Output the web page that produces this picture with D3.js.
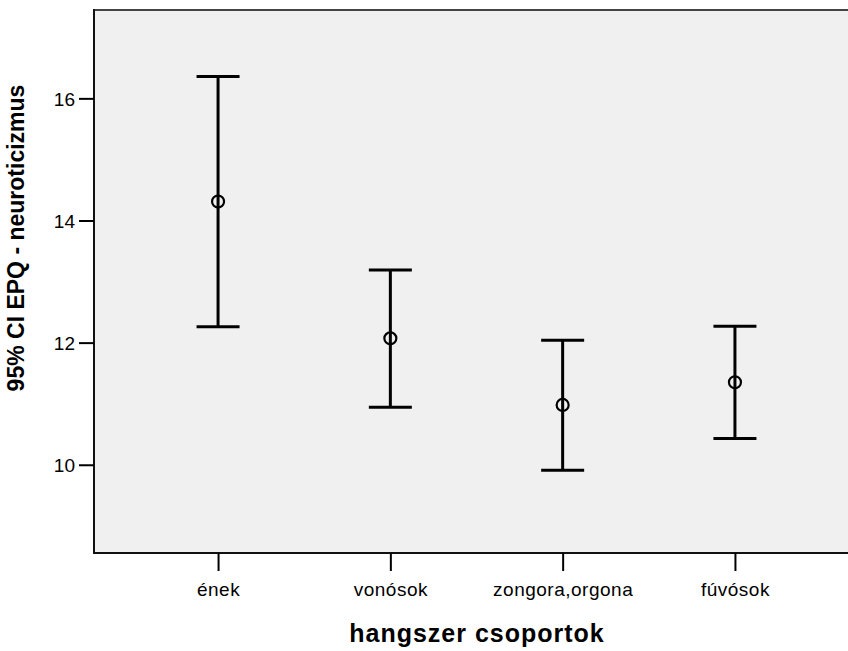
<!DOCTYPE html>
<head>
<meta charset="utf-8">
<script src="https://cdn.jsdelivr.net/npm/d3@7/dist/d3.min.js"></script>
<style>
body { margin: 0; background: #fff; }
text { font-family: Arial, "Liberation Sans", sans-serif; }
</style>
</head>
<body>
<script>
// data
var groups = ["ének", "vonósok", "zongora,orgona", "fúvósok"];
var means = [14.31, 12.07, 10.98, 11.35];
var lower = [12.26, 10.94, 9.91, 10.43];
var upper = [16.36, 13.19, 12.04, 12.27];
var yTicks = [10, 12, 14, 16];

var width = 848, height = 651;
var plotL = 94, plotR = 859, plotT = 10, plotB = 553;

var svg = d3.select("body").append("svg")
  .attr("width", width)
  .attr("height", height);

var x = d3.scalePoint().domain(groups).range([plotL, plotR]).padding(0.72);
var y = d3.scaleLinear().domain([8.555, 17.447]).range([plotB, plotT]);

// plot background + frame
svg.append("rect")
  .attr("x", plotL).attr("y", plotT)
  .attr("width", plotR - plotL).attr("height", plotB - plotT)
  .attr("fill", "#f0f0f0");
svg.append("line")
  .attr("x1", plotL).attr("x2", plotR).attr("y1", plotT).attr("y2", plotT)
  .attr("stroke", "#444").attr("stroke-width", 2);
svg.append("line")
  .attr("x1", plotL).attr("x2", plotL).attr("y1", plotT - 1).attr("y2", plotB + 1)
  .attr("stroke", "#111").attr("stroke-width", 2);
svg.append("line")
  .attr("x1", plotL - 1).attr("x2", plotR).attr("y1", plotB).attr("y2", plotB)
  .attr("stroke", "#111").attr("stroke-width", 2);

// axes
var yAxis = svg.append("g")
  .attr("transform", "translate(" + plotL + ",0)")
  .call(d3.axisLeft(y).tickValues(yTicks).tickSize(15).tickPadding(4).tickFormat(d3.format("d")));
yAxis.select(".domain").remove();
yAxis.selectAll("line").attr("stroke", "#000").attr("stroke-width", 2);
yAxis.selectAll("text").attr("font-size", 19).attr("fill", "#000")
  .style("font-family", "Arial, 'Liberation Sans', sans-serif").attr("dy", "0.38em");

var xAxis = svg.append("g")
  .attr("transform", "translate(0," + plotB + ")")
  .call(d3.axisBottom(x).tickSize(18).tickPadding(12));
xAxis.select(".domain").remove();
xAxis.selectAll("line").attr("stroke", "#000").attr("stroke-width", 2);
xAxis.selectAll("text").attr("font-size", 19).attr("fill", "#000")
  .attr("letter-spacing", "0.5px")
  .style("font-family", "Arial, 'Liberation Sans', sans-serif");

// axis titles
svg.append("text")
  .attr("x", 477).attr("y", 642)
  .attr("text-anchor", "middle")
  .attr("font-size", 25).attr("font-weight", "bold")
  .attr("letter-spacing", "1px")
  .text("hangszer csoportok");

svg.append("text")
  .attr("transform", "translate(24,238) rotate(-90)")
  .attr("text-anchor", "middle")
  .attr("font-size", 23).attr("font-weight", "bold")
  .text("95% CI EPQ - neuroticizmus");

// error bars
var bars = svg.selectAll("g.bar")
  .data(groups).enter().append("g").attr("class", "bar");

bars.append("line")
  .attr("x1", function(d) { return x(d); })
  .attr("x2", function(d) { return x(d); })
  .attr("y1", function(d, i) { return y(upper[i]); })
  .attr("y2", function(d, i) { return y(lower[i]); })
  .attr("stroke", "#000").attr("stroke-width", 3);
bars.append("line")
  .attr("x1", function(d) { return x(d) - 21.5; })
  .attr("x2", function(d) { return x(d) + 21.5; })
  .attr("y1", function(d, i) { return y(upper[i]); })
  .attr("y2", function(d, i) { return y(upper[i]); })
  .attr("stroke", "#000").attr("stroke-width", 3);
bars.append("line")
  .attr("x1", function(d) { return x(d) - 21.5; })
  .attr("x2", function(d) { return x(d) + 21.5; })
  .attr("y1", function(d, i) { return y(lower[i]); })
  .attr("y2", function(d, i) { return y(lower[i]); })
  .attr("stroke", "#000").attr("stroke-width", 3);
bars.append("circle")
  .attr("cx", function(d) { return x(d); })
  .attr("cy", function(d, i) { return y(means[i]); })
  .attr("r", 6)
  .attr("fill", "none")
  .attr("stroke", "#000").attr("stroke-width", 2.2);
</script>
</body>
